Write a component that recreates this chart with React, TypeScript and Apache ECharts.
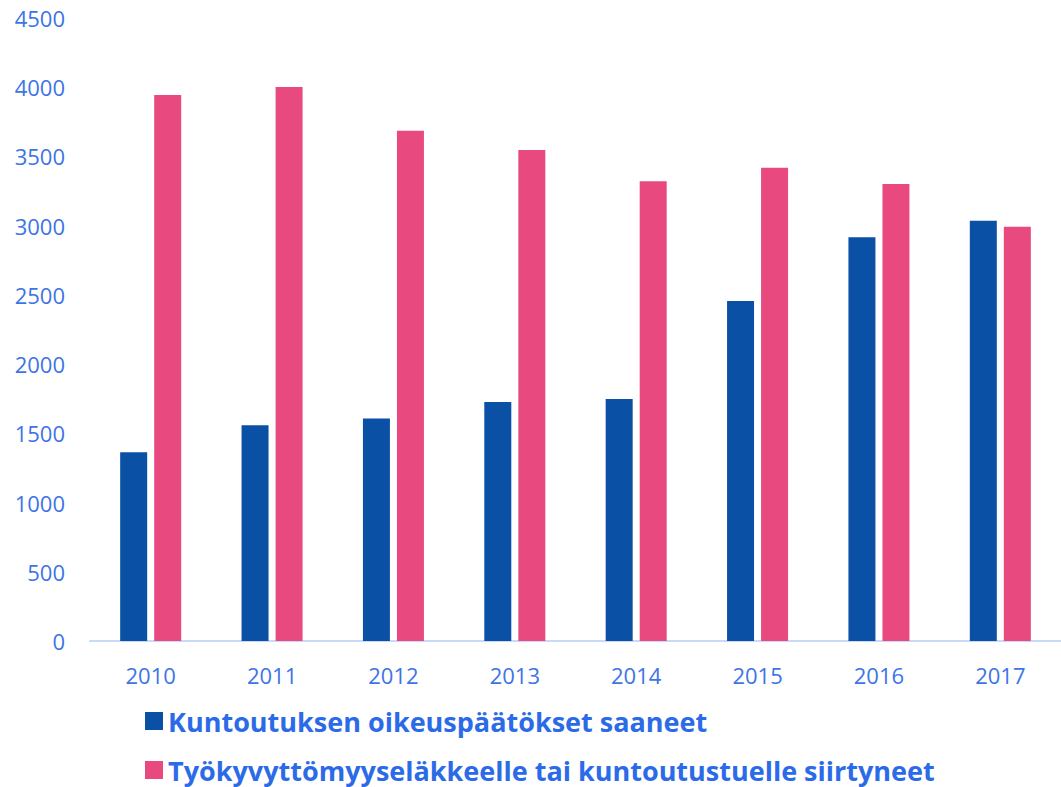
import React, { useEffect, useRef } from "react";
import * as echarts from "echarts";

const categories = ["2010", "2011", "2012", "2013", "2014", "2015", "2016", "2017"];
const seriesNames = [
  "Kuntoutuksen oikeuspäätökset saaneet",
  "Työkyvyttömyyseläkkeelle tai kuntoutustuelle siirtyneet",
];
const rehabDecisions = [1363, 1558, 1608, 1726, 1748, 2456, 2916, 3036];
const disabilityTransfers = [3944, 4002, 3686, 3547, 3320, 3419, 3301, 2993];
const yMin = 0;
const yMax = 4500;
const yInterval = 500;

export default function App() {
  const ref = useRef<HTMLDivElement>(null);
  useEffect(() => {
    if (!ref.current) return;
    const chart = echarts.init(ref.current, null, { renderer: "svg" });
    const font = "'Open Sans', 'Noto Sans', sans-serif";
    chart.setOption({
      animation: false,
      backgroundColor: "#ffffff",
      grid: { left: 90, right: 0, top: 18, bottom: 146, containLabel: false },
      legend: {
        orient: "vertical",
        left: 145,
        top: 706,
        height: 81,
        padding: 0,
        icon: "rect",
        itemWidth: 18,
        itemHeight: 18,
        itemGap: 19,
        textStyle: {
          fontFamily: font,
          fontWeight: "bold",
          fontSize: 27,
          lineHeight: 30,
          color: "#2b6be8",
        },
        data: seriesNames,
      },
      xAxis: {
        type: "category",
        data: categories,
        axisLine: { show: true, lineStyle: { color: "#c9d9f7", width: 2 } },
        axisTick: { show: false },
        axisLabel: { color: "#3d74e6", fontSize: 22, fontFamily: font, margin: 23 },
      },
      yAxis: {
        type: "value",
        min: yMin,
        max: yMax,
        interval: yInterval,
        splitLine: { show: false },
        axisLine: { show: false },
        axisTick: { show: false },
        axisLabel: {
          color: "#3d74e6",
          fontSize: 22,
          fontFamily: font,
          margin: 25,
          formatter: (v: number) => String(v),
        },
      },
      series: [
        {
          name: seriesNames[0],
          type: "bar",
          data: rehabDecisions,
          barWidth: 27,
          barGap: "26%",
          itemStyle: { color: "#0a50a5" },
        },
        {
          name: seriesNames[1],
          type: "bar",
          data: disabilityTransfers,
          barWidth: 27,
          barGap: "26%",
          itemStyle: { color: "#e84a80" },
        },
      ],
    });
    return () => chart.dispose();
  }, []);
  return (
    <div
      ref={ref}
      style={{ position: "absolute", left: 0, top: 0, width: 1061, height: 787 }}
    />
  );
}
